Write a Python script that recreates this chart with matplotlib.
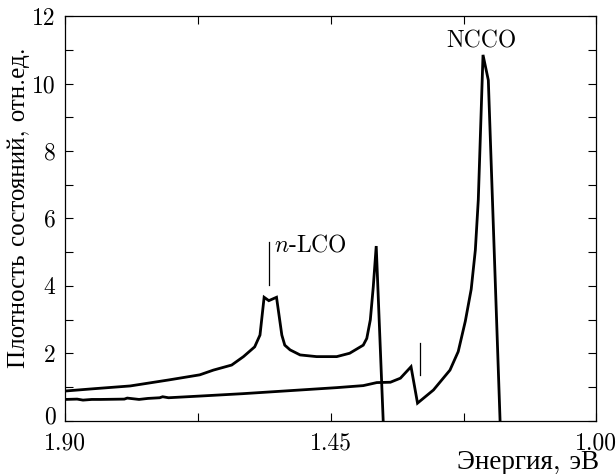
import matplotlib
matplotlib.use("Agg")
import matplotlib.pyplot as plt
import matplotlib.transforms as mtransforms

plt.rcParams['font.family'] = ['cmr10', 'Liberation Serif', 'DejaVu Serif']
plt.rcParams['mathtext.fontset'] = 'cm'
plt.rcParams['axes.unicode_minus'] = False

# n-LCO curve
lco_x = [1.90, 1.85, 1.79, 1.724, 1.672, 1.649, 1.618, 1.598, 1.579, 1.570, 1.563, 1.555,
         1.542, 1.533, 1.528, 1.519, 1.502, 1.474, 1.440, 1.418, 1.395, 1.389, 1.383,
         1.378, 1.373, 1.3605]
lco_y = [0.88, 0.95, 1.03, 1.21, 1.36, 1.50, 1.65, 1.90, 2.19, 2.54, 3.66, 3.56,
         3.66, 2.54, 2.24, 2.10, 1.95, 1.90, 1.90, 2.00, 2.24, 2.44, 2.99,
         3.97, 5.18, -0.3]

# NCCO curve
ncco_x = [1.90, 1.88, 1.87, 1.855, 1.84, 1.80, 1.795, 1.775, 1.76, 1.74, 1.735, 1.725,
          1.672, 1.60, 1.502, 1.44, 1.395, 1.372, 1.349, 1.332, 1.314, 1.303, 1.276,
          1.248, 1.234, 1.222, 1.212, 1.205, 1.200, 1.192, 1.183, 1.1625]
ncco_y = [0.63, 0.64, 0.61, 0.63, 0.63, 0.64, 0.67, 0.63, 0.66, 0.68, 0.71, 0.68,
          0.73, 0.80, 0.91, 0.98, 1.04, 1.13, 1.14, 1.26, 1.60, 0.52, 0.91,
          1.50, 2.05, 2.95, 3.90, 5.06, 6.55, 10.85, 10.10, -0.3]

xticks = [1.90, 1.675, 1.45, 1.225, 1.00]
xticklabels = ['1.90', '', '1.45', '', '1.00']
yticks = list(range(0, 13))
yticklabels = [str(v) if v % 2 == 0 else '' for v in yticks]

fig = plt.figure(figsize=(6.16, 4.74), dpi=100)
ax = fig.add_axes([0.106, 0.1125, 0.862, 0.8535])

ax.plot(lco_x, lco_y, color='black', lw=2.0, solid_joinstyle='miter')
ax.plot(ncco_x, ncco_y, color='black', lw=2.0, solid_joinstyle='miter')

ax.set_xlim(1.90, 1.00)
ax.set_ylim(0, 12)
ax.set_xticks(xticks)
ax.set_xticklabels(xticklabels)
ax.set_yticks(yticks)
ax.set_yticklabels(yticklabels)
ax.tick_params(direction='in', length=6, width=0.8, top=True, right=True,
               labelsize=17)
ax.tick_params(axis='x', pad=8.5)
ax.tick_params(axis='y', pad=7)
for s in ax.spines.values():
    s.set_linewidth(0.9)

# nudge the "0" label up slightly so it does not collide with "1.90"
zero_lbl = ax.get_yticklabels()[0]
zero_lbl.set_transform(zero_lbl.get_transform() +
                       mtransforms.ScaledTranslation(0, 4 / 72, fig.dpi_scale_trans))

# markers and labels
ax.plot([1.555, 1.555], [4.02, 5.31], color='black', lw=0.9)
ax.plot([1.298, 1.298], [1.36, 2.31], color='black', lw=0.9)
ax.text(1.546, 5.2, r'$n$-LCO', fontsize=17, ha='left', va='center')
ax.text(1.194, 11.25, 'NCCO', fontsize=17, ha='center', va='center')

fig.text(0.973, 0.023, 'Энергия, эВ', fontsize=19.5, ha='right', va='center')
fig.text(0.031, 0.561, 'Плотность состояний, отн.ед.', fontsize=18,
         rotation=90, ha='center', va='center')

fig.savefig('out.png', dpi=100)
